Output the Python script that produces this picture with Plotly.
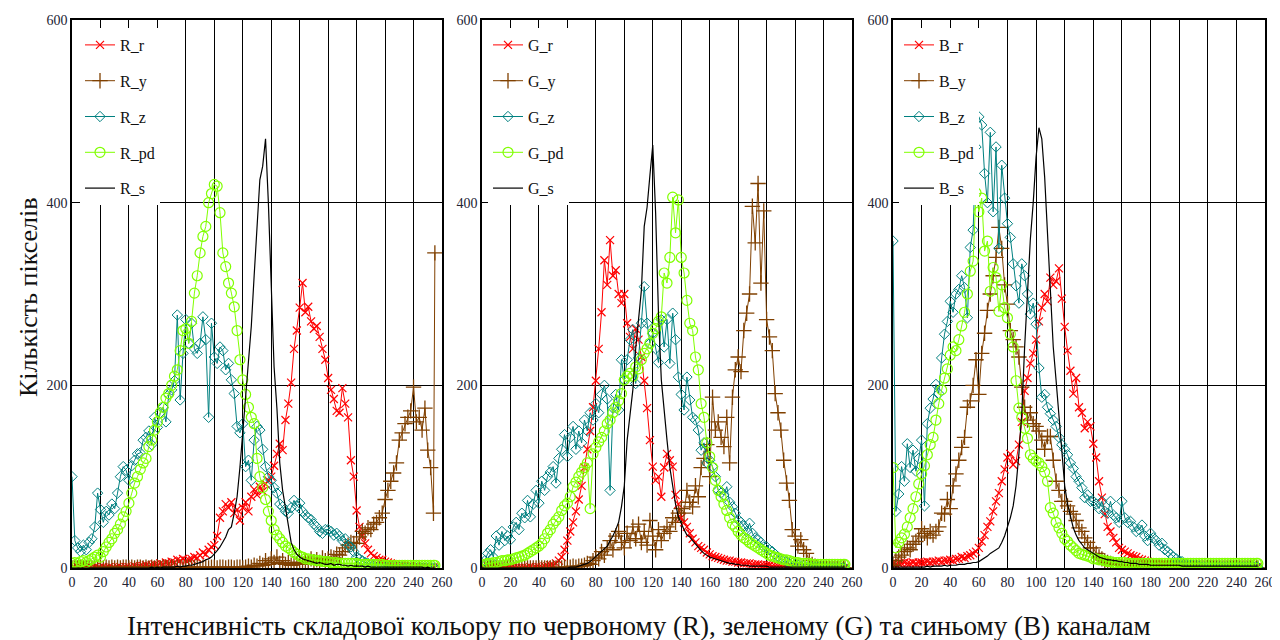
import plotly.graph_objects as go

FONT = "Liberation Serif"

# intensity levels (every 2nd level plus the last one)
X = list(range(0, 256, 2)) + [255]

# ---------------- Red channel panel ----------------
R_r = [0,0,1,0,0,1,0,0,1,0,
       0,1,0,1,0,0,1,1,0,1,
       1,1,2,1,2,2,3,2,3,4,
       3,5,4,6,5,7,6,9,8,10,
       8,9,10,12,11,14,17,15,20,23,
       25,35,55,62,70,66,72,60,64,52,
       66,72,62,78,86,80,89,84,92,96,
       100,112,125,136,129,162,180,203,240,260,
       285,312,280,286,270,262,265,253,240,228,
       208,195,185,172,170,197,180,165,118,100,
       63,45,35,27,20,16,13,11,9,9,
       7,6,5,4,4,3,3,2,2,2,
       1,2,1,1,1,1,0,1, 0]
R_y = [0,0,0,0,0,0,0,0,0,0,
       1,0,1,0,1,0,1,0,1,1,
       0,1,0,1,1,0,1,0,1,0,
       1,0,1,1,0,1,0,1,1,0,
       1,1,0,1,1,0,1,1,0,1,
       1,0,1,1,0,1,1,0,1,1,
       0,1,2,1,3,2,5,3,8,4,
       10,6,12,5,8,4,6,3,5,4,
       6,4,8,5,10,7,9,6,11,8,
       10,12,11,15,14,18,22,25,28,27,
       27,34,40,38,44,42,48,50,55,60,
       75,85,95,104,115,140,148,158,165,172,
       198,160,165,151,175,129,110,60, 345]
R_z = [100,30,22,18,25,20,28,32,45,82,
       64,50,62,58,70,65,82,100,111,107,
       96,112,118,125,126,140,143,150,135,165,
       154,170,176,160,190,195,205,277,184,235,
       272,246,268,240,235,246,275,250,165,268,
       231,224,242,238,217,224,206,191,155,148,
       158,111,118,96,140,155,151,130,111,100,
       96,88,82,70,67,62,60,66,74,68,
       71,62,58,55,53,48,45,40,38,42,
       42,40,36,38,35,30,32,25,23,18,
       12,10,8,6,5,4,3,3,2,2,
       1,1,1,1,1,1,1,0,0,0,
       0,0,0,0,0,0,0,0, 0]
R_pd = [5,6,5,7,8,6,8,10,12,14,
        12,18,23,28,32,38,42,48,56,62,
        71,82,93,100,108,115,120,133,140,151,
        160,170,176,186,191,200,210,217,238,260,
        262,246,270,301,320,345,363,374,400,410,
        420,418,389,345,330,312,301,286,260,228,
        206,190,176,165,158,120,100,88,75,62,
        52,42,36,32,28,24,22,20,17,15,
        13,12,10,10,9,9,8,8,7,7,
        7,6,6,6,5,5,5,5,5,5,
        5,4,4,4,4,4,4,4,4,4,
        3,3,3,3,3,3,3,3,3,3,
        3,3,3,3,3,3,3,3, 3]
R_s = [0,0,0,0,0,0,0,0,0,0,
       0,0,0,0,0,0,0,0,0,0,
       0,0,0,0,0,0,0,0,1,0,
       1,0,1,1,1,1,1,2,1,2,
       2,3,3,4,5,6,7,9,10,12,
       15,19,23,28,34,42,45,60,78,110,
       150,190,225,265,320,380,425,440,470,400,
       300,220,175,115,85,65,45,28,20,15,
       12,10,9,8,7,6,5,6,5,4,
       4,5,3,4,4,3,3,2,3,2,
       2,2,2,1,2,1,1,1,1,1,
       1,1,1,1,1,1,1,1,1,1,
       1,1,1,1,0,1,0,0, 0]

# ---------------- Green channel panel ----------------
G_r = [0,0,0,0,0,0,0,0,0,0,
       0,0,0,0,0,0,0,1,0,1,
       1,1,2,2,3,3,5,8,12,20,
       30,40,50,62,75,90,110,130,150,176,
       205,240,280,337,310,359,320,326,300,290,
       300,268,253,240,262,250,231,205,175,140,
       111,96,100,78,110,125,118,111,80,70,
       55,50,45,38,32,28,24,22,20,17,
       15,13,12,11,10,9,8,8,7,7,
       6,6,5,5,5,4,4,4,3,3,
       3,3,2,2,2,2,2,1,1,1,
       1,1,1,1,1,1,1,1,1,1,
       0,0,0,0,0,0,0,0, 0]
G_y = [0,0,0,0,0,0,0,0,0,0,
       0,0,0,0,0,0,0,0,0,0,
       0,0,0,0,0,0,0,1,0,1,
       1,1,2,1,2,2,3,5,4,8,
       12,10,18,14,22,30,20,35,40,28,
       22,38,30,45,32,48,28,40,25,52,
       35,20,42,30,38,45,40,55,50,60,
       65,60,85,72,67,90,78,110,120,135,
       100,187,151,160,143,133,165,115,187,217,
       231,215,260,279,300,396,356,421,312,391,
       272,253,238,191,170,151,118,93,74,42,
       35,24,31,20,16,8,4,2,1,1,
       1,0,0,0,0,0,0,0, 0]
G_z = [5,8,16,20,12,35,25,40,30,35,
       31,45,50,42,60,55,74,56,70,85,
       71,95,85,100,105,111,93,120,130,146,
       122,143,155,130,150,137,162,150,170,162,
       180,170,190,200,185,85,175,190,173,228,
       206,228,250,261,202,230,268,308,268,246,
       257,240,225,272,242,272,224,279,250,209,
       190,173,209,184,165,162,151,129,137,115,
       118,111,100,85,82,80,89,72,67,60,
       53,50,46,40,49,38,33,31,28,23,
       23,20,18,15,12,10,9,7,5,5,
       4,3,2,2,1,1,1,1,1,1,
       1,0,0,0,0,0,0,0, 0]
G_pd = [3,4,5,5,6,6,7,8,8,9,
        9,10,11,12,13,14,16,18,20,22,
        24,27,32,38,42,48,52,56,63,68,
        71,78,89,94,100,105,110,115,65,125,
        132,138,143,150,158,162,170,176,183,191,
        206,210,213,210,220,218,228,235,240,246,
        257,262,270,275,323,312,340,406,367,403,
        340,323,293,268,260,231,217,180,165,137,
        122,110,96,85,78,70,63,55,48,45,
        40,36,33,31,28,26,24,22,20,18,
        16,14,13,12,11,10,9,9,8,7,
        6,6,5,5,5,5,4,4,4,4,
        4,4,4,4,4,4,4,4, 4]
G_s = [0,0,0,0,0,0,0,0,0,0,
       0,0,0,0,0,0,0,0,0,0,
       0,0,0,0,0,0,0,0,0,0,
       0,1,1,1,2,3,4,5,7,10,
       12,15,18,21,24,30,35,42,50,67,
       90,140,165,195,240,275,304,374,395,430,
       463,389,279,206,170,140,110,89,70,56,
       48,42,36,34,30,26,22,19,16,14,
       12,11,10,9,8,7,6,5,5,4,
       4,3,3,3,2,2,2,2,2,2,
       2,1,1,1,1,1,1,1,1,1,
       1,1,1,1,1,1,1,1,1,1,
       1,1,1,1,1,1,1,1, 1]

# ---------------- Blue channel panel ----------------
B_r = [5,4,5,5,6,5,5,6,5,6,
       6,6,7,6,7,7,8,7,8,8,
       9,8,10,10,12,11,13,14,16,18,
       22,29,36,45,51,62,73,82,95,108,
       121,125,113,117,135,160,194,208,224,235,
       250,270,285,300,292,318,310,314,328,295,
       264,238,216,191,208,176,170,153,160,155,
       136,121,95,77,59,45,40,33,28,22,
       20,18,16,14,13,12,10,9,8,7,
       6,5,5,4,4,4,3,3,3,3,
       3,2,2,2,2,2,1,1,1,1,
       1,1,1,1,1,1,1,1,1,1,
       1,1,1,1,1,1,1,1, 1]
B_y = [3,8,12,14,18,22,20,26,29,35,
       43,38,33,40,36,40,45,60,59,75,
       65,90,103,118,132,143,176,183,200,228,
       190,235,257,282,300,320,340,373,350,310,
       289,260,250,242,231,198,176,162,170,158,
       155,150,140,130,144,144,118,95,85,73,
       73,68,62,59,52,44,40,33,28,22,
       22,16,12,10,8,6,5,4,3,3,
       3,2,2,2,2,1,1,1,1,1,
       1,1,1,1,1,1,1,1,1,1,
       1,1,1,0,1,0,1,0,1,0,
       0,0,0,0,0,0,0,0,0,0,
       0,0,0,0,0,0,0,0, 0]
B_z = [358,62,81,111,95,136,110,129,106,120,
       140,68,158,175,185,201,191,230,256,270,
       292,280,300,305,320,307,274,351,370,461,
       494,485,432,400,477,390,461,350,441,405,
       377,362,333,309,290,333,320,300,278,290,
       267,219,187,190,176,169,162,155,143,135,
       130,124,115,109,100,95,88,77,80,73,
       73,70,65,73,62,60,73,58,55,50,
       73,55,50,51,45,40,42,47,35,30,
       38,33,30,25,27,20,18,15,12,10,
       8,7,5,4,3,3,2,2,1,1,
       1,1,1,1,1,1,1,1,1,1,
       1,1,1,1,1,1,1,1, 1]
B_pd = [110,22,28,33,37,45,55,65,78,92,
        103,112,124,135,143,162,180,195,208,218,
        233,242,238,250,265,280,300,325,336,411,
        390,405,347,358,303,329,318,281,310,285,
        274,256,242,205,175,165,153,142,124,120,
        117,115,111,105,95,66,60,50,44,38,
        32,29,25,22,19,16,15,14,13,12,
        10,10,9,9,8,7,7,6,6,6,
        6,6,5,5,5,5,5,5,5,5,
        5,5,5,5,5,5,5,5,5,5,
        5,5,5,5,5,5,5,5,5,5,
        5,5,5,5,5,5,5,5,5,5,
        5,5,5,5,5,5,5,5, 5]
B_s = [1,1,1,1,1,1,1,1,1,1,
       1,1,2,1,2,2,2,2,3,2,
       3,3,3,4,4,4,5,5,6,6,
       7,9,11,13,16,18,20,22,28,35,
       45,55,68,90,125,169,242,300,360,400,
       450,482,470,428,370,300,242,205,165,132,
       90,70,55,44,36,30,26,22,20,18,
       16,14,12,11,10,9,9,8,8,7,
       7,6,6,5,5,5,4,4,4,4,
       3,3,3,3,3,3,3,3,3,3,
       3,2,2,2,2,2,2,2,2,2,
       2,2,2,2,2,2,2,2,2,2,
       2,2,2,2,2,2,2,2, 2]

PANELS = [
    ("R", [R_r, R_y, R_z, R_pd, R_s]),
    ("G", [G_r, G_y, G_z, G_pd, G_s]),
    ("B", [B_r, B_y, B_z, B_pd, B_s]),
]
SUFFIX = ["r", "y", "z", "pd", "s"]

X_TICKS = list(range(0, 261, 20))
Y_TICKS = [0, 200, 400, 600]

RED = "#ff0000"
BROWN = "#804000"
TEAL = "#008080"
LIME = "#80ff00"
BLACK = "#000000"

STYLE = {
    "r": dict(mode="lines+markers", line=dict(color=RED, width=1),
              marker=dict(symbol="x-thin", size=8, line=dict(color=RED, width=1.2))),
    "y": dict(mode="lines+markers", line=dict(color=BROWN, width=1),
              marker=dict(symbol="cross-thin", size=11, line=dict(color=BROWN, width=1.3))),
    "z": dict(mode="lines+markers", line=dict(color=TEAL, width=1),
              marker=dict(symbol="diamond-open", size=8, color=TEAL, line=dict(color=TEAL, width=1))),
    "pd": dict(mode="lines+markers", line=dict(color=LIME, width=1),
               marker=dict(symbol="circle-open", size=10, color=LIME, line=dict(color=LIME, width=1.2))),
    "s": dict(mode="lines", line=dict(color=BLACK, width=1.2)),
}

# the page places the figure 8 px from the window's top-left corner
OFF = 8
W, H = 1280, 640


def fx(px):
    return (px - OFF) / W


def fy(py):
    return 1 - (py - OFF) / H


X_DOMAINS = [(fx(72), fx(442)), (fx(482), fx(852)), (fx(893), fx(1265))]
Y_DOMAIN = [fy(568), fy(20)]
LEGEND_X = [fx(80), fx(488), fx(899)]
LEGEND_NAMES = ["legend", "legend2", "legend3"]

fig = go.Figure()

for i, (ch, series) in enumerate(PANELS):
    for suf, vals in zip(SUFFIX, series):
        if len(vals) != len(X):
            raise ValueError(f"{ch}_{suf} has {len(vals)} values, expected {len(X)}")
        fig.add_trace(go.Scatter(
            x=X, y=vals, name=f"{ch}_{suf}",
            xaxis="x" if i == 0 else f"x{i+1}",
            yaxis="y" if i == 0 else f"y{i+1}",
            legend=LEGEND_NAMES[i],
            legendgroup=f"{ch}_{suf}",
            **STYLE[suf],
        ))

layout = dict(
    width=W, height=H,
    margin=dict(l=0, r=0, t=0, b=0, autoexpand=False),
    paper_bgcolor="white", plot_bgcolor="white",
    font=dict(family=FONT, color="#111111"),
    annotations=[
        dict(text="Кількість пікселів", xref="paper", yref="paper",
             x=fx(28), y=fy(297), xanchor="center", yanchor="middle",
             textangle=-90, showarrow=False,
             font=dict(family=FONT, size=26, color="#111111")),
        dict(text="Інтенсивність складової кольору по червоному (R), зеленому (G) та синьому (B) каналам",
             xref="paper", yref="paper", x=fx(639), y=fy(626),
             xanchor="center", yanchor="middle", showarrow=False,
             font=dict(family=FONT, size=27, color="#111111")),
    ],
)

for i in range(3):
    xa = "xaxis" if i == 0 else f"xaxis{i+1}"
    ya = "yaxis" if i == 0 else f"yaxis{i+1}"
    layout[xa] = dict(
        domain=list(X_DOMAINS[i]), range=[0, 260], anchor="y" if i == 0 else f"y{i+1}",
        tickmode="array", tickvals=X_TICKS, ticktext=[str(v) for v in X_TICKS],
        showgrid=True, gridcolor="#000000", gridwidth=1,
        showline=True, mirror=True, linecolor="#000000", linewidth=1.5,
        zeroline=False, ticks="", ticklen=0, automargin=False,
        tickfont=dict(family=FONT, size=14, color="#222233"),
    )
    layout[ya] = dict(
        domain=list(Y_DOMAIN), range=[0, 600], anchor="x" if i == 0 else f"x{i+1}",
        tickmode="array", tickvals=Y_TICKS, ticktext=[str(v) for v in Y_TICKS],
        showgrid=True, gridcolor="#000000", gridwidth=1,
        showline=True, mirror=True, linecolor="#000000", linewidth=1.5,
        zeroline=False, ticks="", ticklen=0, automargin=False,
        tickfont=dict(family=FONT, size=14, color="#222233"),
    )
    layout[LEGEND_NAMES[i]] = dict(
        x=LEGEND_X[i], y=fy(28), xanchor="left", yanchor="top",
        bgcolor="white", borderwidth=0, orientation="v",
        font=dict(family=FONT, size=16, color="#111111"),
        itemwidth=30, tracegroupgap=12, itemclick=False, itemdoubleclick=False,
    )

fig.update_layout(**layout)
fig.write_html("out.html")
